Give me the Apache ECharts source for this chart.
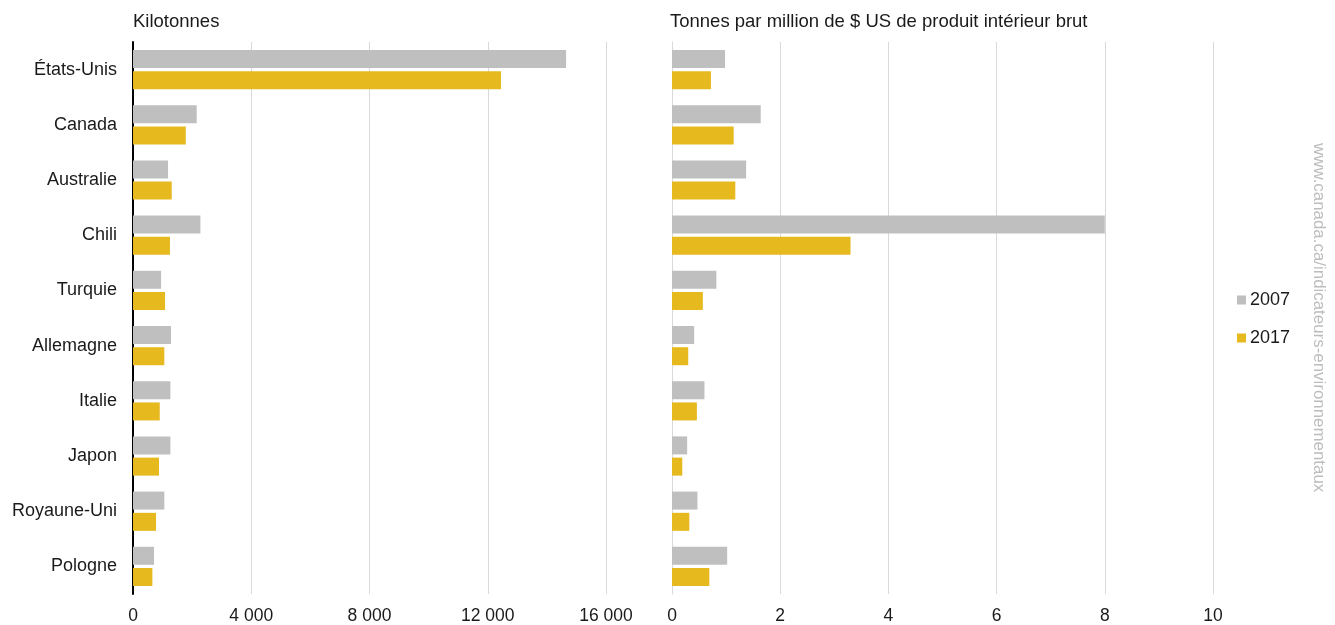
<!DOCTYPE html>
<html>
<head>
<meta charset="utf-8">
<script src="https://cdn.jsdelivr.net/npm/echarts@6/dist/echarts.min.js"></script>
<style>
html,body{margin:0;padding:0;background:#fff;}
#chart{width:1335px;height:625px;}
</style>
</head>
<body>
<div id="chart"></div>
<script>
const categories = ['États-Unis','Canada','Australie','Chili','Turquie','Allemagne','Italie','Japon','Royaune-Uni','Pologne'];
const kilotonnes2007 = [14650, 2155, 1185, 2280, 950, 1285, 1265, 1265, 1060, 710];
const kilotonnes2017 = [12450, 1785, 1310, 1250, 1085, 1060, 905, 880, 780, 655];
const intensity2007 = [0.98, 1.64, 1.37, 8.0, 0.82, 0.41, 0.60, 0.28, 0.47, 1.02];
const intensity2017 = [0.72, 1.14, 1.17, 3.30, 0.57, 0.30, 0.46, 0.19, 0.32, 0.69];
const seriesNames = ['2007','2017'];
const leftTitle = 'Kilotonnes';
const rightTitle = 'Tonnes par million de $ US de produit intérieur brut';
const watermark = 'www.canada.ca/indicateurs-environnementaux';

const GREY = '#bfbfbf', GOLD = '#e6b91e';
const FONT = '"Liberation Sans", Arial, sans-serif';
const chart = echarts.init(document.getElementById('chart'), null, {renderer:'canvas'});

function fmt(v){ return String(v).replace(/\B(?=(\d{3})+(?!\d))/g, ' '); }

const barCommon = { type:'bar', barWidth:18, barGap:'18%', animation:false };

chart.setOption({
  backgroundColor:'#fff',
  textStyle:{fontFamily:FONT},
  title:[
    {text:leftTitle, left:133, top:12, padding:0, textStyle:{fontSize:18.5, fontWeight:'normal', color:'#1a1a1a', fontFamily:FONT}},
    {text:rightTitle, left:670, top:12, padding:0, textStyle:{fontSize:18.5, fontWeight:'normal', color:'#1a1a1a', fontFamily:FONT}}
  ],
  legend:{
    data:seriesNames, orient:'vertical', left:1232, top:286,
    itemWidth:9, itemHeight:9, itemGap:20, icon:'rect',
    textStyle:{fontSize:18, color:'#1a1a1a', fontFamily:FONT, padding:[0,0,0,-1]}
  },
  grid:[
    {left:133, right:729, top:42, bottom:31},
    {left:672, right:122, top:42, bottom:31}
  ],
  xAxis:[
    {gridIndex:0, type:'value', min:0, max:16000, interval:4000,
     axisLine:{show:false}, axisTick:{show:false},
     splitLine:{lineStyle:{color:'#d9d9d9', width:1}},
     axisLabel:{formatter:fmt, fontSize:17.5, color:'#1a1a1a', margin:13, fontFamily:FONT}},
    {gridIndex:1, type:'value', min:0, max:10, interval:2,
     axisLine:{show:false}, axisTick:{show:false},
     splitLine:{lineStyle:{color:'#d9d9d9', width:1}},
     axisLabel:{fontSize:17.5, color:'#1a1a1a', margin:13, fontFamily:FONT}}
  ],
  yAxis:[
    {gridIndex:0, type:'category', data:categories, inverse:true,
     axisLine:{lineStyle:{color:'#000', width:2}}, axisTick:{show:false},
     axisLabel:{fontSize:18, color:'#1a1a1a', margin:16, fontFamily:FONT}},
    {gridIndex:1, type:'category', data:categories, inverse:true,
     axisLine:{lineStyle:{color:'#d9d9d9', width:1}}, axisTick:{show:false},
     axisLabel:{show:false}}
  ],
  series:[
    Object.assign({}, barCommon, {name:seriesNames[0], xAxisIndex:0, yAxisIndex:0, data:kilotonnes2007, itemStyle:{color:GREY}}),
    Object.assign({}, barCommon, {name:seriesNames[1], xAxisIndex:0, yAxisIndex:0, data:kilotonnes2017, itemStyle:{color:GOLD}}),
    Object.assign({}, barCommon, {name:seriesNames[0], xAxisIndex:1, yAxisIndex:1, data:intensity2007, itemStyle:{color:GREY}}),
    Object.assign({}, barCommon, {name:seriesNames[1], xAxisIndex:1, yAxisIndex:1, data:intensity2017, itemStyle:{color:GOLD}})
  ],
  graphic:[
    {type:'text', x:1327, y:143, rotation:-Math.PI/2,
     style:{text:watermark, fontSize:16.9, fill:'#bdbdbd', fontFamily:FONT}}
  ]
});
</script>
</body>
</html>
